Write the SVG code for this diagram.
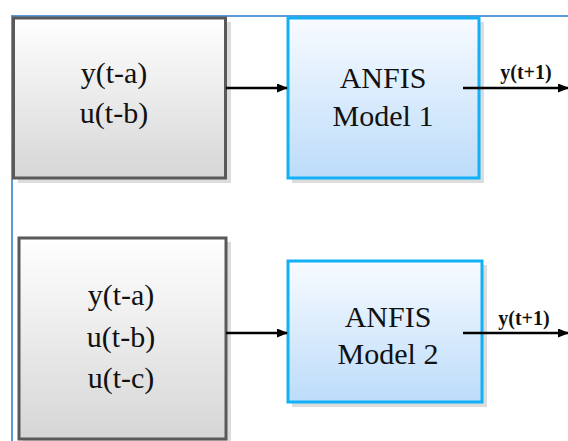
<svg xmlns="http://www.w3.org/2000/svg" width="568" height="441" viewBox="0 0 568 441">
<defs>
<linearGradient id="gGray" x1="0" y1="0" x2="0" y2="1">
<stop offset="0" stop-color="#ffffff"/>
<stop offset="1" stop-color="#d6d6d6"/>
</linearGradient>
<linearGradient id="gBlue" x1="0" y1="0" x2="0" y2="1">
<stop offset="0" stop-color="#f8fbff"/>
<stop offset="1" stop-color="#bcdcfa"/>
</linearGradient>
<marker id="arr" markerWidth="11" markerHeight="9" refX="10" refY="4.5" orient="auto" markerUnits="userSpaceOnUse">
<path d="M0,0 L11,4.5 L0,9 Z" fill="#000"/>
</marker>
</defs>
<style>
.shadow{fill:#dcdcdc}
.gray{fill:url(#gGray);stroke:#595959;stroke-width:3}
.blue{fill:url(#gBlue);stroke:#12b0f5;stroke-width:3}
.t{font-family:"Liberation Serif","Times New Roman",serif;font-size:30px;fill:#111;text-anchor:middle}
.lbl{font-family:"Liberation Serif","Times New Roman",serif;font-size:20px;font-weight:bold;fill:#111;text-anchor:middle}
.c{stroke:#000;stroke-width:2.5;fill:none;marker-end:url(#arr)}
</style>
<rect width="568" height="441" fill="#fff"/>
<path d="M12,441 L12,16 L568,16" fill="none" stroke="#5b9bd5" stroke-width="2"/>
<g id="input1">
<rect class="shadow" x="18" y="22" width="213" height="161"/>
<rect class="gray" x="13.5" y="18" width="212" height="160"/>
<text class="t" x="114" y="83">y(t-a)</text>
<text class="t" x="114" y="123">u(t-b)</text>
</g>
<g id="model1">
<rect class="shadow" x="292" y="22" width="192" height="161"/>
<rect class="blue" x="288" y="18" width="191" height="160"/>
<text class="t" x="383" y="88">ANFIS</text>
<text class="t" x="383" y="126">Model 1</text>
</g>
<g id="input2">
<rect class="shadow" x="23" y="242" width="208" height="205"/>
<rect class="gray" x="19" y="238" width="207" height="201"/>
<text class="t" x="121" y="305">y(t-a)</text>
<text class="t" x="121" y="347">u(t-b)</text>
<text class="t" x="121" y="388">u(t-c)</text>
</g>
<g id="model2">
<rect class="shadow" x="292" y="265" width="195" height="142"/>
<rect class="blue" x="288" y="261" width="194" height="141"/>
<text class="t" x="388" y="327">ANFIS</text>
<text class="t" x="388" y="364">Model 2</text>
</g>
<g id="connectors">
<line class="c" x1="226" y1="88" x2="287" y2="88"/>
<line class="c" x1="463" y1="88" x2="568" y2="88"/>
<line class="c" x1="226" y1="333" x2="287" y2="333"/>
<line class="c" x1="463" y1="333" x2="568" y2="333"/>
<text class="lbl" x="526" y="79">y(t+1)</text>
<text class="lbl" x="524" y="325">y(t+1)</text>
</g>
</svg>
